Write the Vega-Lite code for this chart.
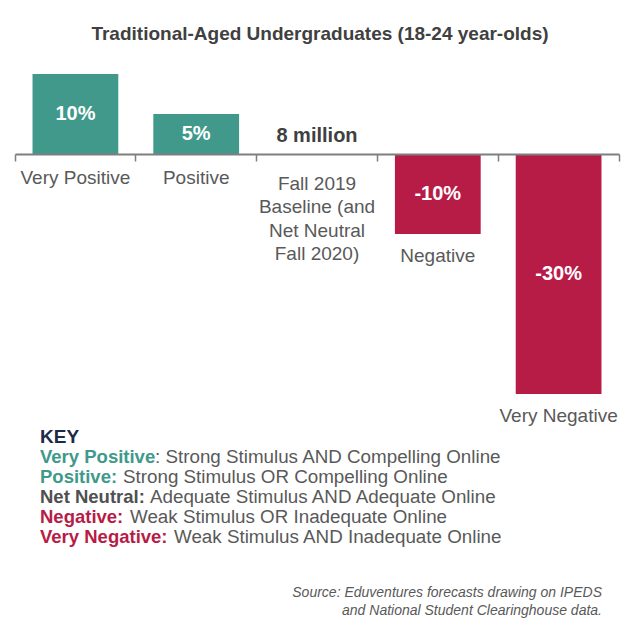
{
  "$schema": "https://vega.github.io/schema/vega-lite/v6.json",
  "width": 604,
  "height": 320,
  "autosize": {"type": "none"},
  "padding": {"left": 15, "top": 74, "right": 25, "bottom": 249},
  "background": "white",
  "config": {"view": {"stroke": null}, "font": "Liberation Sans", "text": {"font": "Liberation Sans"}},
  "title": {"text": "Traditional-Aged Undergraduates (18-24 year-olds)", "frame": "group", "anchor": "middle", "fontSize": 19, "fontWeight": "bold", "color": "#404040", "offset": 30, "font": "Liberation Sans", "dx": 3},
  "layer": [
    {
      "data": {"values": [
        {"category": "Very Positive", "value": 10, "valueLabel": "10%", "name": "Very Positive"},
        {"category": "Positive", "value": 5, "valueLabel": "5%", "name": "Positive"},
        {"category": "Fall 2019 Baseline", "value": 0, "valueLabel": "8 million", "name": ["Fall 2019", "Baseline (and", "Net Neutral", "Fall 2020)"]},
        {"category": "Negative", "value": -10, "valueLabel": "-10%", "name": "Negative"},
        {"category": "Very Negative", "value": -30, "valueLabel": "-30%", "name": "Very Negative"}
      ]},
      "encoding": {
        "x": {"field": "category", "type": "nominal",
          "sort": ["Very Positive", "Positive", "Fall 2019 Baseline", "Negative", "Very Negative"],
          "scale": {"domain": ["Very Positive", "Positive", "Fall 2019 Baseline", "Negative", "Very Negative"], "paddingInner": 0, "paddingOuter": 0},
          "axis": {"orient": "bottom", "offset": -240, "labels": false, "title": null, "domainColor": "#7f7f7f", "domainWidth": 2, "tickColor": "#7f7f7f", "tickWidth": 1.5, "tickSize": 7, "bandPosition": 1, "tickExtra": true, "zindex": 1}}
      },
      "layer": [
        {
          "transform": [{"filter": "datum.value != 0"}],
          "mark": {"type": "bar", "width": {"band": 0.71}},
          "encoding": {
            "y": {"field": "value", "type": "quantitative", "scale": {"domain": [-30, 10], "nice": false}, "axis": null},
            "color": {"condition": {"test": "datum.value < 0", "value": "#b71c47"}, "value": "#40998a"}
          }
        },
        {
          "transform": [{"filter": "datum.value != 0"}, {"calculate": "datum.value / 2", "as": "mid"}],
          "mark": {"type": "text", "fontSize": 20, "fontWeight": "bold", "color": "white", "baseline": "middle"},
          "encoding": {
            "y": {"field": "mid", "type": "quantitative", "scale": {"domain": [-30, 10], "nice": false}, "axis": null},
            "text": {"field": "valueLabel"}
          }
        },
        {
          "transform": [{"filter": "datum.value == 0"}],
          "mark": {"type": "text", "fontSize": 20, "fontWeight": "bold", "color": "#404040", "baseline": "middle", "dy": -18},
          "encoding": {
            "y": {"datum": 0, "type": "quantitative", "scale": {"domain": [-30, 10], "nice": false}, "axis": null},
            "text": {"field": "valueLabel"}
          }
        },
        {
          "transform": [{"filter": "datum.value > 0"}],
          "mark": {"type": "text", "fontSize": 19, "color": "#595959", "baseline": "middle", "dy": 24},
          "encoding": {
            "y": {"datum": 0, "type": "quantitative", "scale": {"domain": [-30, 10], "nice": false}, "axis": null},
            "text": {"field": "name"}
          }
        },
        {
          "transform": [{"filter": "datum.value < 0"}],
          "mark": {"type": "text", "fontSize": 19, "color": "#595959", "baseline": "middle", "dy": 22},
          "encoding": {
            "y": {"field": "value", "type": "quantitative", "scale": {"domain": [-30, 10], "nice": false}, "axis": null},
            "text": {"field": "name"}
          }
        },
        {
          "transform": [{"filter": "datum.value == 0"}],
          "mark": {"type": "text", "fontSize": 19, "color": "#595959", "baseline": "top", "dy": 21, "lineHeight": 23.3},
          "encoding": {
            "y": {"datum": 0, "type": "quantitative", "scale": {"domain": [-30, 10], "nice": false}, "axis": null},
            "text": {"field": "name"}
          }
        }
      ]
    },
    {
      "data": {"values": [{"t": "KEY"}]},
      "mark": {"type": "text", "x": 25, "y": 363, "align": "left", "baseline": "middle", "fontSize": 19, "fontWeight": "bold", "color": "#1b2a47"},
      "encoding": {"text": {"field": "t"}}
    },
    {
      "data": {"values": [{"t": "Very Positive"}]},
      "mark": {"type": "text", "x": 25, "y": 383, "align": "left", "baseline": "middle", "fontSize": 18.5, "fontWeight": "bold", "color": "#40998a"},
      "encoding": {"text": {"field": "t"}}
    },
    {
      "data": {"values": [{"t": ": Strong Stimulus AND Compelling Online"}]},
      "mark": {"type": "text", "x": 140, "y": 383, "align": "left", "baseline": "middle", "fontSize": 18.8, "color": "#595959"},
      "encoding": {"text": {"field": "t"}}
    },
    {
      "data": {"values": [{"t": "Positive:"}]},
      "mark": {"type": "text", "x": 25, "y": 403, "align": "left", "baseline": "middle", "fontSize": 18.5, "fontWeight": "bold", "color": "#40998a"},
      "encoding": {"text": {"field": "t"}}
    },
    {
      "data": {"values": [{"t": "Strong Stimulus OR Compelling Online"}]},
      "mark": {"type": "text", "x": 108, "y": 403, "align": "left", "baseline": "middle", "fontSize": 18.8, "color": "#595959"},
      "encoding": {"text": {"field": "t"}}
    },
    {
      "data": {"values": [{"t": "Net Neutral:"}]},
      "mark": {"type": "text", "x": 25, "y": 423, "align": "left", "baseline": "middle", "fontSize": 18.5, "fontWeight": "bold", "color": "#505050"},
      "encoding": {"text": {"field": "t"}}
    },
    {
      "data": {"values": [{"t": "Adequate Stimulus AND Adequate Online"}]},
      "mark": {"type": "text", "x": 135, "y": 423, "align": "left", "baseline": "middle", "fontSize": 18.8, "color": "#595959"},
      "encoding": {"text": {"field": "t"}}
    },
    {
      "data": {"values": [{"t": "Negative:"}]},
      "mark": {"type": "text", "x": 25, "y": 443, "align": "left", "baseline": "middle", "fontSize": 18.5, "fontWeight": "bold", "color": "#b71c47"},
      "encoding": {"text": {"field": "t"}}
    },
    {
      "data": {"values": [{"t": "Weak Stimulus OR Inadequate Online"}]},
      "mark": {"type": "text", "x": 115, "y": 443, "align": "left", "baseline": "middle", "fontSize": 18.8, "color": "#595959"},
      "encoding": {"text": {"field": "t"}}
    },
    {
      "data": {"values": [{"t": "Very Negative:"}]},
      "mark": {"type": "text", "x": 25, "y": 463, "align": "left", "baseline": "middle", "fontSize": 18.5, "fontWeight": "bold", "color": "#b71c47"},
      "encoding": {"text": {"field": "t"}}
    },
    {
      "data": {"values": [{"t": "Weak Stimulus AND Inadequate Online"}]},
      "mark": {"type": "text", "x": 159, "y": 463, "align": "left", "baseline": "middle", "fontSize": 18.8, "color": "#595959"},
      "encoding": {"text": {"field": "t"}}
    },
    {
      "data": {"values": [{"t": ["Source: Eduventures forecasts drawing on IPEDS", "and National Student Clearinghouse data."]}]},
      "mark": {"type": "text", "x": 587, "y": 512, "align": "right", "baseline": "top", "fontSize": 14, "fontStyle": "italic", "color": "#595959", "lineHeight": 17.5},
      "encoding": {"text": {"field": "t"}}
    }
  ]
}
